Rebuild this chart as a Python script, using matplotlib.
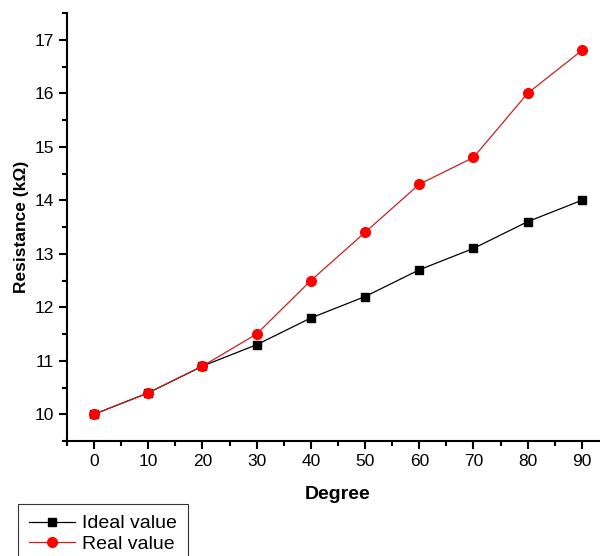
import matplotlib.pyplot as plt
from matplotlib.ticker import MultipleLocator

plt.rcParams['font.family'] = ['Liberation Sans', 'DejaVu Sans']

degree = [0, 10, 20, 30, 40, 50, 60, 70, 80, 90]
ideal = [10.0, 10.4, 10.9, 11.3, 11.8, 12.2, 12.7, 13.1, 13.6, 14.0]
real = [10.0, 10.4, 10.9, 11.5, 12.5, 13.4, 14.3, 14.8, 16.0, 16.8]

fig = plt.figure(figsize=(6.0, 5.56), dpi=100)
ax = fig.add_axes([67/600, 115/556, 542/600, 428/556])

ax.plot(degree, ideal, color='black', lw=0.9, marker='s', ms=6.3,
        label='Ideal value')
ax.plot(degree, real, color='#c82020', lw=0.9, marker='o', ms=7,
        mfc='red', mec='red', label='Real value')

ax.set_xlim(-5, 95)
ax.set_ylim(9.5, 17.5)
ax.xaxis.set_major_locator(MultipleLocator(10))
ax.xaxis.set_minor_locator(MultipleLocator(5))
ax.yaxis.set_major_locator(MultipleLocator(1))
ax.yaxis.set_minor_locator(MultipleLocator(0.5))

for s in ['top', 'right']:
    ax.spines[s].set_visible(False)
for s in ['left', 'bottom']:
    ax.spines[s].set_linewidth(1.5)

ax.tick_params(which='major', direction='out', length=6, width=1.5,
               labelsize=12.5)
ax.tick_params(which='minor', direction='out', length=3.5, width=1.5)

ax.set_xlabel('Degree', fontsize=14, fontweight='bold', labelpad=12)
ax.set_ylabel('Resistance (k\u03a9)', fontsize=12.5, fontweight='bold',
              labelpad=4)

leg = fig.legend(loc='upper left', bbox_to_anchor=(18/600, 1 - 504/556),
                 fontsize=14, frameon=True, fancybox=False,
                 edgecolor='black', handlelength=2.4, borderpad=0.55,
                 labelspacing=0.15, handletextpad=0.35, borderaxespad=0)
leg.get_frame().set_linewidth(0.8)

fig.savefig('out.png', dpi=100)
